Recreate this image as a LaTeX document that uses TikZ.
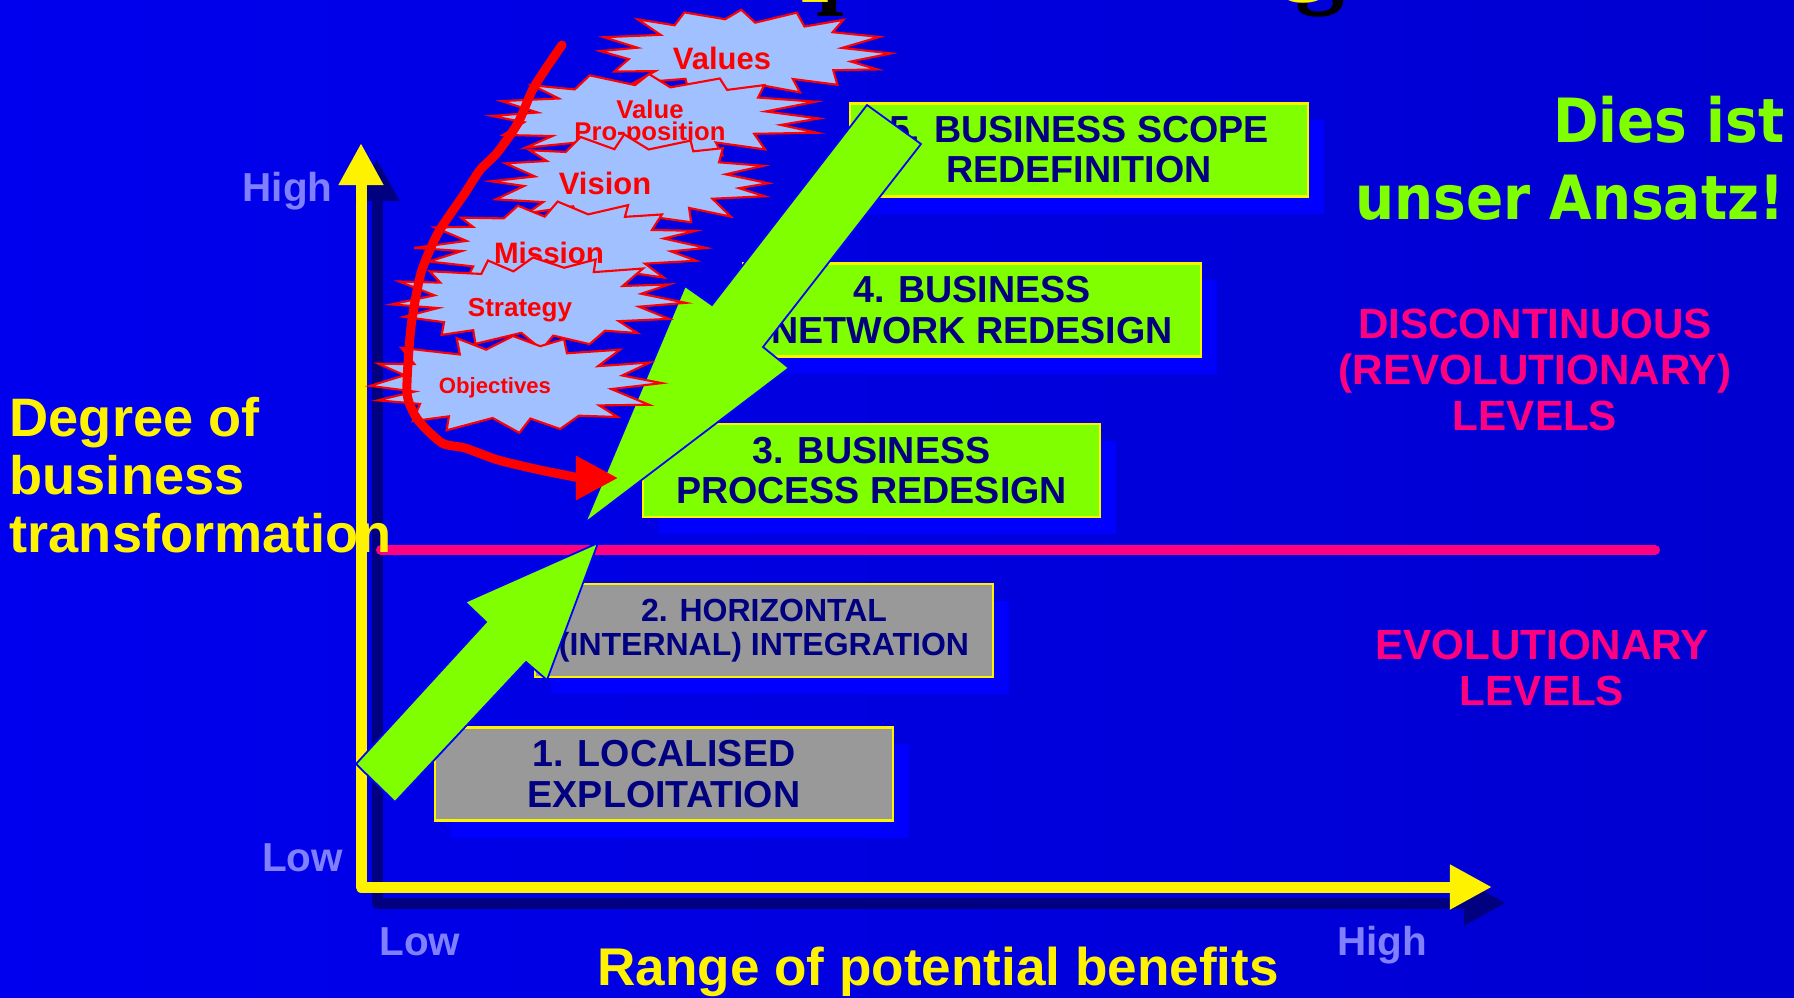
\documentclass[tikz,border=0pt]{standalone}
\usepackage{fontspec}
\setmainfont{Liberation Sans}
\newfontfamily\dejafont[FakeStretch=0.9]{DejaVu Sans}
\newfontfamily\timesfont{Liberation Serif}
\usetikzlibrary{arrows.meta,calc,shadows}
\definecolor{bgL}{RGB}{0,0,238}
\definecolor{bgR}{RGB}{0,0,208}
\definecolor{shad}{RGB}{0,0,255}
\definecolor{axshad}{RGB}{0,0,128}
\definecolor{navytxt}{RGB}{0,0,128}
\definecolor{lime}{RGB}{128,255,0}
\definecolor{greybox}{RGB}{153,153,153}
\definecolor{lav}{RGB}{128,128,255}
\definecolor{pinkc}{RGB}{255,0,128}
\definecolor{starfill}{RGB}{160,192,255}
\newcommand\fsz[2]{\fontsize{#1}{#2}\selectfont}
\tikzset{
  declare function={
    rr(\k,\p)=ifthenelse(mod(\k,2)==0, 1-0.08*abs(sin(\k*71+\p)), 0.70+0.05*sin(\k*53+\p));
    aa(\k,\p)=\k*11.25+3*sin(\k*97+\p);
  },
  burststyle/.style={fill=starfill, draw=red, line width=0.6pt, line join=miter},
  burstlabel/.style={text=red, font=\bfseries, inner sep=0pt, anchor=base},
  levelbox/.style={draw=yellow, line width=0.6pt, text=navytxt, font=\bfseries\fsz{10.7pt}{11.4pt},
    align=center, inner sep=0pt, minimum width=4.57cm, minimum height=0.93cm,
    general shadow={fill=shad, shadow xshift=0.16cm, shadow yshift=-0.17cm}},
  axisline/.style={line width=0.11cm, line join=round,
    {Triangle[length=0.42cm,width=0.42cm]}-{Triangle[length=0.42cm,width=0.42cm]}},
  bigarrow/.style={fill=lime, draw=shad, line width=0.5pt, line join=miter},
  axlabel/.style={text=lav, font=\bfseries\fsz{11.5pt}{12pt}, inner sep=0pt, anchor=base},
  pinklabel/.style={text=pinkc, font=\bfseries\fsz{12pt}{13.1pt}, align=center, inner sep=0pt},
  titlefrag/.style={font=\timesfont\bfseries\fsz{28pt}{30pt}, inner sep=0pt, anchor=base west},
}
\newcommand\burstshape[5]{%
  \filldraw[burststyle] plot[samples at={0,...,31}, variable=\k]
    ({#1+#3*rr(\k,#5)*cos(aa(\k,#5))},{#2+#4*rr(\k,#5)*sin(aa(\k,#5))}) -- cycle;}
\begin{document}
\begin{tikzpicture}[x=0.01cm,y=-0.01cm]
\useasboundingbox (0,0) rectangle (1794,997);
\shade[left color=bgL,right color=bgR] (0,0) rectangle (1794,997);

% cut-off title fragments
\node[titlefrag, text=black] (tpb) at (816,-4) {p};
\node[titlefrag, text=yellow] (tpy) at (801,-18) {p};
\node[titlefrag, text=black] (tgb) at (1295,-4) {g};
\node[titlefrag, text=yellow] (tgy) at (1280,-18) {g};

% axes
\coordinate (o) at (361,887);
\coordinate (yt) at (361,143);
\coordinate (xt) at (1492,887);
\draw[axisline, axshad] ($(yt)+(16,16)$) -- ($(o)+(16,16)$) -- ($(xt)+(14,16)$);
\draw[axisline, yellow] (yt) -- (o) -- (xt);

% level boxes
\node[levelbox, fill=lime] (b5) at (1079,150) {5. BUSINESS SCOPE\\REDEFINITION};
\node[levelbox, fill=lime] (b4) at (972,310) {4. BUSINESS\\NETWORK REDESIGN};
\node[levelbox, fill=lime] (b3) at (871.5,470.5) {3. BUSINESS\\PROCESS REDESIGN};
\node[levelbox, fill=greybox, font=\bfseries\fsz{9.1pt}{9.7pt}] (b2) at (764,630.5) {2. HORIZONTAL\\(INTERNAL) INTEGRATION};
\node[levelbox, fill=greybox] (b1) at (664,774) {1. LOCALISED\\EXPLOITATION};

% pink divider
\coordinate (pl) at (381,550);
\coordinate (pr) at (1655,550);
\draw[pinkc, line width=0.1cm, line cap=round] (pl) -- (pr);

% labels
\node[text=yellow, font=\bfseries\fsz{15.4pt}{16.5pt}, align=left, inner sep=0pt, anchor=west] (ylab) at (9,475) {Degree of\\business\\transformation};
\node[text=yellow, font=\bfseries\fsz{15.1pt}{16pt}, inner sep=0pt, anchor=base] (xlab) at (938,985) {Range of potential benefits};
\node[axlabel] (yhigh) at (287.5,202) {High};
\node[axlabel] (ylow) at (302.5,871) {Low};
\node[axlabel] (xlow) at (420,955) {Low};
\node[axlabel] (xhigh) at (1382,955) {High};
\node[pinklabel] (disc) at (1535,370) {DISCONTINUOUS\\(REVOLUTIONARY)\\LEVELS};
\node[pinklabel] (evol) at (1542,667.5) {EVOLUTIONARY\\LEVELS};
\node[text=lime, font=\dejafont\bfseries\fsz{17.35pt}{21.9pt}, align=right, inner sep=0pt, anchor=east] (dies) at (1785,158.5) {Dies ist\\unser Ansatz!};

% upward green arrow (evolutionary)
\filldraw[bigarrow] (356,764) -- (486,622) -- (465,602) -- (598,543) -- (547,680) -- (526,662) -- (395,802) -- cycle;

% downward green arrow (revolutionary)
\filldraw[bigarrow] (867,105) -- (712,305) -- (685,286) -- (585,523) -- (789,368) -- (763,347) -- (921,144) -- cycle;

% starbursts
\burstshape{741}{53}{152}{47}{10}
\node[burstlabel, font=\bfseries\fsz{8.8pt}{9pt}] (values) at (722,70) {Values};
\burstshape{653}{117}{175}{46}{40}
\node[burstlabel, font=\bfseries\fsz{7.3pt}{6.26pt}, align=center, anchor=center] (valprop) at (650,122.8) {Value\\Pro-position};
\burstshape{631}{181}{149}{48}{75}
\node[burstlabel, font=\bfseries\fsz{8.8pt}{9pt}] (vision) at (605,195) {Vision};
\burstshape{565}{246}{152}{46}{120}
\node[burstlabel, font=\bfseries\fsz{8.4pt}{9pt}] (mission) at (549,263) {Mission};
\burstshape{537}{302}{153}{48}{160}
\node[burstlabel, font=\bfseries\fsz{7.4pt}{8pt}] (strategy) at (520,317) {Strategy};
\burstshape{512}{384}{154}{52}{200}
\node[burstlabel, font=\bfseries\fsz{6.3pt}{7pt}] (objectives) at (495,393) {Objectives};

% red arrow
\coordinate (redS) at (562,45);
\coordinate (redE) at (618,478);
\draw[red, line width=0.09cm, line cap=round, line join=round, -{Triangle[length=0.42cm,width=0.42cm]}]
  (redS) -- plot[smooth, tension=0.4] coordinates {(562,45) (534,87) (518,123) (497,153) (480,170) (465,193) (438,233) (421,273) (411,327) (407,393) (418,420) (442,443) (465,448) (498,460) (540,470) (580,478)} -- (redE);
\end{tikzpicture}
\end{document}
